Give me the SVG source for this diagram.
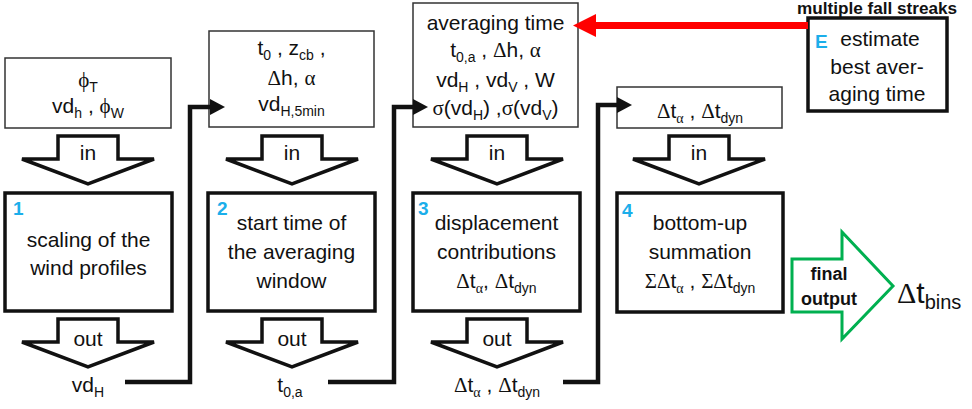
<svg xmlns="http://www.w3.org/2000/svg" width="972" height="409" viewBox="0 0 972 409">
<style>
.t{font-family:"Liberation Sans",Arial,sans-serif;font-size:21px;fill:#111;text-anchor:middle}
.g{font-family:"Liberation Serif","Times New Roman",serif}
.s{font-size:14px}
.num{font-family:"Liberation Sans",Arial,sans-serif;font-size:19px;font-weight:bold;fill:#1BAEEA}
.b{font-family:"Liberation Sans",Arial,sans-serif;font-weight:bold;fill:#111}
.inbox{fill:#fff;stroke:#333;stroke-width:1.5}
.pbox{fill:#fff;stroke:#111;stroke-width:3.5}
.blk{fill:#fff;stroke:#111;stroke-width:3.5;stroke-linejoin:miter}
.conn{fill:none;stroke:#111;stroke-width:4.5;stroke-linejoin:miter}
</style>
<defs>
<path id="blockArrow" d="M-30,0 H30 V23 H66 L0,48 L-66,23 H-30 Z"/>
<marker id="ah" markerUnits="userSpaceOnUse" markerWidth="15" markerHeight="16" viewBox="0 0 15 16" refX="0" refY="8" orient="auto">
<path d="M0,0 L15,8 L0,16 Z" fill="#111"/>
</marker>
<marker id="ahr" markerUnits="userSpaceOnUse" markerWidth="23" markerHeight="23" viewBox="0 0 23 23" refX="0" refY="11.5" orient="auto">
<path d="M0,0 L23,11.5 L0,23 Z" fill="#f00"/>
</marker>
</defs>

<!-- inputs -->
<g id="input1">
<rect class="inbox" x="5" y="58" width="166" height="70"/>
<text class="t" x="88" y="87"><tspan class="g">ϕ</tspan><tspan class="s" dy="5">T</tspan></text>
<text class="t" x="88" y="113">vd<tspan class="s" dy="5">h</tspan><tspan dy="-5"> , </tspan><tspan class="g">ϕ</tspan><tspan class="s" dy="5">W</tspan></text>
</g>
<g id="input2">
<rect class="inbox" x="209" y="31" width="165" height="96"/>
<text class="t" x="291.5" y="55">t<tspan class="s" dy="5">0</tspan><tspan dy="-5"> , z</tspan><tspan class="s" dy="5">cb</tspan><tspan dy="-5"> ,</tspan></text>
<text class="t" x="291.5" y="85"><tspan class="g">Δ</tspan>h, <tspan class="g">α</tspan></text>
<text class="t" x="291.5" y="111">vd<tspan class="s" dy="5">H,5min</tspan></text>
</g>
<g id="input3">
<rect class="inbox" x="413" y="3" width="165" height="124"/>
<text class="t" x="495.5" y="30">averaging time</text>
<text class="t" x="495.5" y="57">t<tspan class="s" dy="5">0,a</tspan><tspan dy="-5"> , </tspan><tspan class="g">Δ</tspan>h, <tspan class="g">α</tspan></text>
<text class="t" x="495.5" y="87">vd<tspan class="s" dy="5">H</tspan><tspan dy="-5"> , vd</tspan><tspan class="s" dy="5">V</tspan><tspan dy="-5"> , W</tspan></text>
<text class="t" x="495.5" y="115"><tspan class="g">σ</tspan>(vd<tspan class="s" dy="5">H</tspan><tspan dy="-5">) ,</tspan><tspan class="g">σ</tspan>(vd<tspan class="s" dy="5">V</tspan><tspan dy="-5">)</tspan></text>
</g>
<g id="input4">
<rect class="inbox" x="617" y="87" width="165" height="41"/>
<text class="t" x="700" y="118"><tspan class="g">Δ</tspan>t<tspan class="s g" dy="5">α</tspan><tspan dy="-5"> , </tspan><tspan class="g">Δ</tspan>t<tspan class="s" dy="5">dyn</tspan></text>
</g>

<!-- in arrows -->
<g id="in1"><use href="#blockArrow" class="blk" x="88" y="136"/><text class="t" x="88" y="160">in</text></g>
<g id="in2"><use href="#blockArrow" class="blk" x="292" y="136"/><text class="t" x="292" y="160">in</text></g>
<g id="in3"><use href="#blockArrow" class="blk" x="497" y="136"/><text class="t" x="497" y="160">in</text></g>
<g id="in4"><use href="#blockArrow" class="blk" x="699" y="136"/><text class="t" x="699" y="160">in</text></g>

<!-- process boxes -->
<g id="step1">
<rect class="pbox" x="5" y="193" width="167" height="118"/>
<text class="num" x="13" y="215">1</text>
<text class="t" x="88.5" y="247">scaling of the</text>
<text class="t" x="88.5" y="275">wind profiles</text>
</g>
<g id="step2">
<rect class="pbox" x="208" y="193" width="167" height="118"/>
<text class="num" x="217" y="215">2</text>
<text class="t" x="291.5" y="230">start time of</text>
<text class="t" x="291.5" y="259">the averaging</text>
<text class="t" x="291.5" y="288">window</text>
</g>
<g id="step3">
<rect class="pbox" x="413" y="193" width="167" height="118"/>
<text class="num" x="418" y="215">3</text>
<text class="t" x="496.5" y="230">displacement</text>
<text class="t" x="496.5" y="259">contributions</text>
<text class="t" x="496.5" y="288"><tspan class="g">Δ</tspan>t<tspan class="s g" dy="5">α</tspan><tspan dy="-5">, </tspan><tspan class="g">Δ</tspan>t<tspan class="s" dy="5">dyn</tspan></text>
</g>
<g id="step4">
<rect class="pbox" x="617" y="193" width="166" height="119"/>
<text class="num" x="622" y="217">4</text>
<text class="t" x="700" y="230">bottom-up</text>
<text class="t" x="700" y="259">summation</text>
<text class="t" x="700" y="288"><tspan class="g">ΣΔ</tspan>t<tspan class="s g" dy="5">α</tspan><tspan dy="-5"> , </tspan><tspan class="g">ΣΔ</tspan>t<tspan class="s" dy="5">dyn</tspan></text>
</g>

<!-- out arrows -->
<g id="out1"><use href="#blockArrow" class="blk" x="88" y="319"/><text class="t" x="88" y="346">out</text>
<text class="t" x="88" y="392">vd<tspan class="s" dy="5">H</tspan></text></g>
<g id="out2"><use href="#blockArrow" class="blk" x="292" y="319"/><text class="t" x="292" y="346">out</text>
<text class="t" x="290" y="392">t<tspan class="s" dy="5">0,a</tspan></text></g>
<g id="out3"><use href="#blockArrow" class="blk" x="497" y="319"/><text class="t" x="497" y="346">out</text>
<text class="t" x="497" y="392"><tspan class="g">Δ</tspan>t<tspan class="s g" dy="5">α</tspan><tspan dy="-5"> , </tspan><tspan class="g">Δ</tspan>t<tspan class="s" dy="5">dyn</tspan></text></g>

<!-- estimate box -->
<g id="estimate">
<text class="b" x="797" y="14" font-size="16" textLength="160" lengthAdjust="spacingAndGlyphs">multiple fall streaks</text>
<rect class="pbox" x="808" y="18" width="139" height="93"/>
<text class="num" x="815" y="48">E</text>
<text class="t" x="880" y="46">estimate</text>
<text class="t" x="877" y="74">best aver-</text>
<text class="t" x="877" y="101">aging time</text>
</g>

<!-- final output -->
<g id="final">
<path d="M792,259 H842 V232 L893,286 L842,339 V312 H792 Z" fill="#fff" stroke="#00B050" stroke-width="3"/>
<text class="b" x="829" y="280" font-size="18" text-anchor="middle">final</text>
<text class="b" x="829" y="305" font-size="18" text-anchor="middle">output</text>
<text class="t" x="897" y="303" style="text-anchor:start;font-size:30px"><tspan class="g">Δ</tspan>t<tspan dy="6" style="font-size:20px">bins</tspan></text>
</g>

<!-- connectors -->
<g id="connectors">
<path class="conn" d="M125,382 H190 V107 H210" marker-end="url(#ah)"/>
<path class="conn" d="M328,382 H394 V107 H413" marker-end="url(#ah)"/>
<path class="conn" d="M563,382 H598 V105 H617" marker-end="url(#ah)"/>
<path d="M808,25.5 H596" fill="none" stroke="#f00" stroke-width="7" marker-end="url(#ahr)"/>
</g>
</svg>
